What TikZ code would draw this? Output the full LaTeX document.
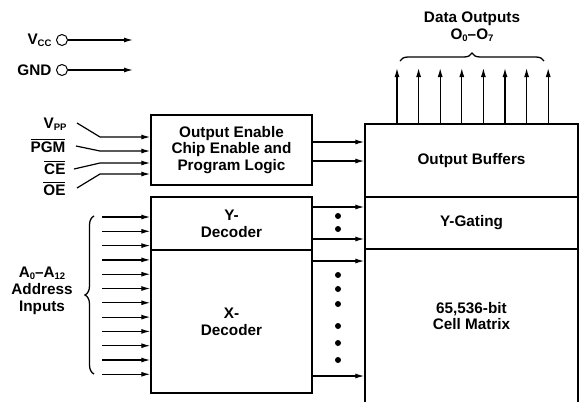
\documentclass[tikz,border=0pt]{standalone}
\usepackage{fontspec}
\setmainfont{Liberation Sans}
\usetikzlibrary{
  arrows.meta,
  decorations.pathreplacing
}
\tikzset{>={Latex[length=9pt,width=5pt]}}
\newcommand{\lowsub}[1]{\raisebox{-0.25ex}{\fontsize{9.5}{9.5}\selectfont #1}}
\newcommand{\barred}[1]{\setbox0\hbox{#1}\rlap{\rule[\dimexpr\ht0+1.6pt\relax]{\wd0}{1.2pt}}\box0}

\begin{document}
\begin{tikzpicture}[x=1pt,y=-1pt,font=\fontsize{15.3}{16.8}\selectfont\bfseries,
  blk/.style={draw,line width=1.4pt,inner sep=0pt,align=center},
  sig/.style={->,line width=1.2pt},
  pad/.style={circle,draw,line width=1pt,inner sep=0pt,minimum size=11pt},
  bit/.style={circle,fill,inner sep=0pt,minimum size=6pt}]
\useasboundingbox (0,0) rectangle (582,402);
% supplies
\node[anchor=east] (vcc) at (55,40) {V\lowsub{CC}};
\node[pad] (vccpad) at (62,40) {};
\coordinate (vccend) at (133,40);
\draw[sig] (vccpad) -- (vccend);
\node[anchor=east] (gnd) at (55,70) {GND};
\node[pad] (gndpad) at (62,70) {};
\coordinate (gndend) at (133,70);
\draw[sig] (gndpad) -- (gndend);
% blocks
\node[blk,minimum width=161pt,minimum height=70pt] (logic) at (231.5,150) {Output Enable\\Chip Enable and\\Program Logic};
\node[blk,minimum width=161pt,minimum height=53pt] (ydec) at (231.5,223.5) {Y-\\Decoder};
\node[blk,minimum width=161pt,minimum height=143pt] (xdec) at (231.5,321.5) {X-\\Decoder};
\node[blk,minimum width=213pt,minimum height=73pt] (buffers) at (471.5,160.5) {Output Buffers};
\node[blk,minimum width=213pt,minimum height=52pt] (ygate) at (471.5,223) {Y-Gating};
\node[blk,minimum width=213pt,minimum height=171pt] (matrix) at (471.5,334.5) {};
\node[align=center] (cells) at (471.5,316) {65,536-bit\\Cell Matrix};
% control inputs
\node[anchor=east] (vpp) at (70,124) {V\lowsub{PP}};
\node[anchor=east] (pgm) at (69,146) {\barred{PGM}};
\node[anchor=east] (ce) at (69,168) {\barred{CE}};
\node[anchor=east] (oe) at (69,189) {\barred{OE}};
\draw[sig] (77,123) -- (100,137) -- (logic.west |- 0,137);
\draw[sig] (76,146) -- (100,151) -- (logic.west |- 0,151);
\draw[sig] (74,169) -- (100,163) -- (logic.west |- 0,163);
\draw[sig] (77,188) -- (100,174) -- (logic.west |- 0,174);
\draw[sig] (logic.east |- 0,142) -- (buffers.west |- 0,142);
\draw[sig] (logic.east |- 0,161) -- (buffers.west |- 0,161);
% address inputs
\foreach \i in {0,...,11}
  \draw[sig] (102,217+\i*14.3) -- (ydec.west |- 0,217+\i*14.3);
\draw[line width=1.3pt,decorate,decoration={brace,amplitude=9pt}] (94,374) -- (94,216);
\node[align=center] (addr) at (42,291) {A\lowsub{0}--A\lowsub{12}\\Address\\Inputs};
% decoder outputs
\draw[sig] (ydec.east |- 0,207) -- (ygate.west |- 0,207);
\draw[sig] (ydec.east |- 0,239) -- (ygate.west |- 0,239);
\draw[sig] (xdec.east |- 0,261) -- (matrix.west |- 0,261);
\draw[sig] (xdec.east |- 0,376) -- (matrix.west |- 0,376);
\foreach \y in {216,229,275,289,304,326,343,360}
  \node[bit] at (338,\y) {};
% data outputs
\foreach \i in {0,...,7}{
  \coordinate (o\i) at (397+\i*21.6,68);
  \draw[sig] (buffers.north -| o\i) -- (o\i);
}
\draw[line width=1.3pt,decorate,decoration={brace,amplitude=8pt}] (400,61) -- (544,61);
\node[align=center] (dout) at (472,27) {Data Outputs\\O\lowsub{0}--O\lowsub{7}};
\end{tikzpicture}
\end{document}
